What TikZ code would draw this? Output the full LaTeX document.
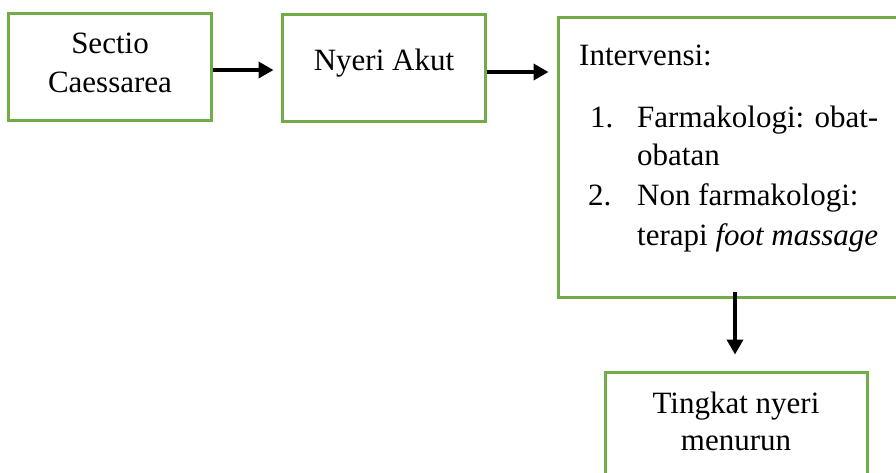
\documentclass[tikz,border=0pt]{standalone}
\usepackage{fontspec}
\setmainfont{Liberation Serif}
\usetikzlibrary{arrows.meta}
\definecolor{boxgreen}{HTML}{70AD47}
\begin{document}
\begin{tikzpicture}[x=1pt,y=-1pt,
  greenbox/.style={draw=boxgreen, line width=3pt, fill=white, inner sep=0pt},
  txt/.style={font=\fontsize{31}{39}\selectfont, inner sep=0pt, anchor=base},
  txtw/.style={font=\fontsize{31}{39}\selectfont, inner sep=0pt, anchor=base west},
  flow/.style={line width=3.6pt, -{Triangle[length=15pt,width=16pt]}}]
\useasboundingbox (0,0) rectangle (896,472);
\clip (0,0) rectangle (896,472);
% boxes
\node[greenbox, minimum width=203pt, minimum height=107pt] (b1) at (109.5,66.5) {};
\node[greenbox, minimum width=203pt, minimum height=107pt] (b2) at (383.5,67.5) {};
\node[greenbox, minimum width=342pt, minimum height=280pt] (b3) at (729,157) {};
\node[greenbox, minimum width=262pt, minimum height=104pt] (b4) at (736,424) {};
% texts
\node[txt] (t1a) at (110,53) {Sectio};
\node[txt] (t1b) at (110,92) {Caessarea};
\node[txt] (t2) at (384,70) {Nyeri Akut};
\node[txtw] (t3) at (579,65) {Intervensi:};
\node[txtw] (n1) at (590,127) {1.};
\node[txtw] (i1a) at (637,127) {Farmakologi: obat-};
\node[txtw] (i1b) at (637,165) {obatan};
\node[txtw] (n2) at (588,205) {2.};
\node[txtw] (i2a) at (637,205) {Non farmakologi:};
\node[txtw] (i2b) at (637,245) {terapi \textit{foot massage}};
\node[txt] (t4a) at (736,413) {Tingkat nyeri};
\node[txt] (t4b) at (736,450) {menurun};
% connectors
\coordinate (a2s) at (b2.east |- 0,72);
\coordinate (a2e) at (b3.west |- 0,72);
\coordinate (a3s) at (735,292);
\draw[flow, shorten >=7pt] (b1.east |- 0,70) -- (b2.west |- 0,70);
\draw[flow, shorten >=8pt] (a2s) -- (a2e);
\draw[flow, shorten >=16pt] (a3s) -- (b4.north -| a3s);
\end{tikzpicture}
\end{document}
